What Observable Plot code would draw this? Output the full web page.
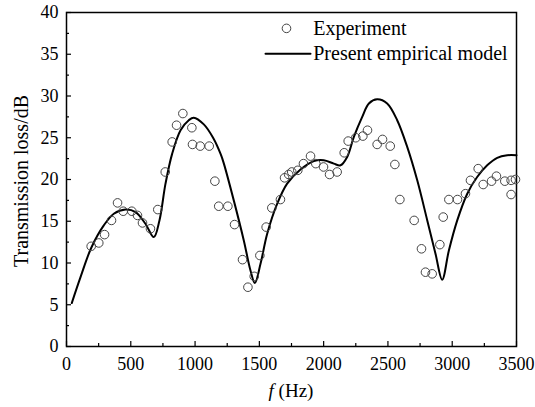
<!DOCTYPE html>
<html>
<head>
<meta charset="utf-8">
<script src="https://cdn.jsdelivr.net/npm/d3@7"></script>
<script src="https://cdn.jsdelivr.net/npm/@observablehq/plot@0.6"></script>
<style>
  html, body { margin: 0; padding: 0; background: #fff; }
  #wrap { position: relative; width: 535px; height: 407px; font-family: "Liberation Serif", "Times New Roman", serif; color: #000; }
  #xlabel { position: absolute; left: 0; width: 582px; top: 380px; text-align: center; font-size: 19px; }
  #ylabel { position: absolute; left: 21px; top: 181px; transform: translate(-50%, -50%) rotate(-90deg); white-space: nowrap; font-size: 20px; }
</style>
</head>
<body>
<div id="wrap"></div>
<script>
// Experiment (circles)
const expFreq = [192,251,296,350,397,441,508,552,591,653,710,768,822,856,905,975,980,1040,1110,1154,1184,1255,1307,1369,1411,1460,1504,1553,1597,1664,1696,1728,1752,1799,1843,1898,1939,1999,2046,2105,2160,2191,2250,2305,2341,2416,2458,2518,2554,2593,2704,2761,2792,2844,2904,2930,2974,3041,3103,3142,3202,3241,3306,3344,3409,3458,3458,3492];
const expTL   = [12.0,12.4,13.4,15.1,17.2,16.2,16.2,15.7,14.8,14.1,16.4,20.9,24.5,26.5,27.9,26.2,24.2,24.0,24.0,19.8,16.8,16.8,14.6,10.4,7.1,8.4,10.9,14.3,16.6,17.6,20.2,20.6,20.9,21.1,21.9,22.8,21.9,21.5,20.6,20.9,23.2,24.6,25.0,25.2,25.9,24.2,24.8,24.0,21.8,17.6,15.1,11.7,8.9,8.7,12.2,15.5,17.6,17.6,18.3,19.9,21.3,19.4,19.8,20.4,19.8,18.2,19.9,20.0];
// Present empirical model (line)
const modelFreq = [41,109,192,290,368,459,537,614,679,723,770,822,887,951,990,1068,1140,1200,1224,1301,1379,1431,1465,1509,1561,1639,1716,1820,1924,2001,2079,2131,2183,2235,2300,2352,2416,2494,2572,2650,2728,2806,2870,2922,2974,3039,3117,3194,3272,3350,3428,3500];
const modelTL   = [5.2,8.3,11.8,14.5,15.9,16.4,16.1,14.7,13.1,15.1,19.5,23.1,25.9,27.1,27.4,26.6,25.0,23.0,21.9,17.5,12.7,9.1,7.6,9.9,13.5,17.1,19.5,21.2,22.2,22.3,21.9,21.7,22.7,25.1,27.5,29.1,29.6,29.1,27.1,23.9,19.9,15.1,11.1,8.0,11.5,15.1,18.3,20.3,21.7,22.6,22.9,22.9];
// Axes ticks
const xTicks = [0,500,1000,1500,2000,2500,3000,3500];
const xMinor = [250,750,1250,1750,2250,2750,3250];
const yTicks = [0,5,10,15,20,25,30,35,40];
const yMinor = [2.5,7.5,12.5,17.5,22.5,27.5,32.5,37.5];
// Legend
const legendLabels = ["Experiment","Present empirical model"];
const legendSymbolX = 1711, legendLineX = [1548,1898], legendTextX = 1919, legendY = [38.1,35.05];

const expData = expFreq.map((f,i) => ({f, tl: expTL[i]}));
const modelData = modelFreq.map((f,i) => ({f, tl: modelTL[i]}));

const chart = Plot.plot({
  width: 535, height: 407,
  marginLeft: 66, marginRight: 19, marginTop: 12, marginBottom: 61,
  style: {fontFamily: '"Liberation Serif", "Times New Roman", serif', fontSize: "18px", color: "#000", background: "#fff"},
  x: {domain: [0,3500], label: null},
  y: {domain: [0,40], label: null},
  marks: [
    Plot.axisX({ticks: xTicks, tickSize: -5, tickPadding: 16, tickFormat: d => String(d), label: null, stroke: "#000", strokeWidth: 1.2}),
    Plot.axisX({ticks: xMinor, tickSize: -3, tickPadding: 0, tickFormat: () => "", label: null, stroke: "#000", strokeWidth: 1.2}),
    Plot.axisY({ticks: yTicks, tickSize: -5, tickPadding: 13, tickFormat: d => String(d), label: null, stroke: "#000", strokeWidth: 1.2}),
    Plot.axisY({ticks: yMinor, tickSize: -3, tickPadding: 0, tickFormat: () => "", label: null, stroke: "#000", strokeWidth: 1.2}),
    Plot.frame({stroke: "#000", strokeWidth: 1.5}),
    Plot.line(modelData, {x: "f", y: "tl", curve: "catmull-rom", stroke: "#000", strokeWidth: 2}),
    Plot.dot(expData, {x: "f", y: "tl", r: 4.3, stroke: "#444", strokeWidth: 1, fill: "none"}),
    // legend
    Plot.dot([legendY[0]], {x: () => legendSymbolX, y: d => d, r: 4.3, stroke: "#444", strokeWidth: 1, fill: "none"}),
    Plot.line(legendLineX.map(x => ({x, y: legendY[1]})), {x: "x", y: "y", stroke: "#000", strokeWidth: 2}),
    Plot.text(legendLabels, {x: () => legendTextX, y: (d,i) => legendY[i], text: d => d, textAnchor: "start", fontSize: 20, fill: "#000"})
  ]
});

const wrap = document.getElementById("wrap");
wrap.appendChild(chart);
const xl = document.createElement("div");
xl.id = "xlabel";
xl.innerHTML = "<i>f</i> (Hz)";
wrap.appendChild(xl);
const yl = document.createElement("div");
yl.id = "ylabel";
yl.textContent = "Transmission loss/dB";
wrap.appendChild(yl);
</script>
</body>
</html>
